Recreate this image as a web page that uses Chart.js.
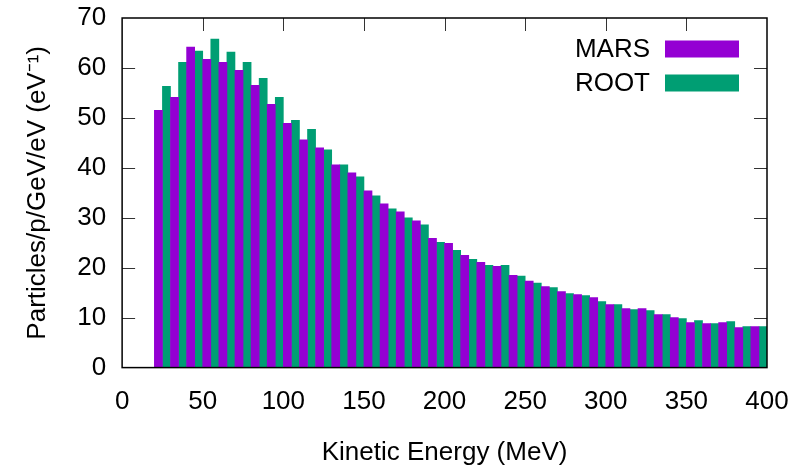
<!DOCTYPE html>
<html lang="en">
<head>
    <meta charset="UTF-8">
    <title>MARS vs ROOT spectrum</title>
    <script src="https://cdn.jsdelivr.net/npm/chart.js"></script>
    <style>
        body {
            margin: 0;
            padding: 0;
            background: white;
        }
        #chart-box {
            width: 811px;
            height: 468px;
        }
    </style>
</head>
<body>
    <div id="chart-box">
        <canvas id="spectrum-chart"></canvas>
    </div>

    <script>
        // Bin centres (MeV), 10 MeV wide bins
        const energies = [25, 35, 45, 55, 65, 75, 85, 95, 105, 115,
                          125, 135, 145, 155, 165, 175, 185, 195, 205, 215,
                          225, 235, 245, 255, 265, 275, 285, 295, 305, 315,
                          325, 335, 345, 355, 365, 375, 385, 395];
        const marsValues = [51.5, 54.1, 64.2, 61.7, 61.1, 59.5, 56.5, 52.7, 48.9, 45.6,
                            44.0, 40.6, 39.0, 35.4, 32.8, 31.2, 29.4, 25.9, 24.9, 22.5,
                            21.1, 20.3, 18.5, 17.3, 16.2, 15.2, 14.6, 14.0, 12.6, 11.8,
                            11.8, 10.6, 10.0, 9.0, 8.8, 9.0, 8.0, 8.2];
        const rootValues = [56.3, 61.1, 63.4, 65.8, 63.2, 61.1, 57.9, 54.1, 49.5, 47.7,
                            43.6, 40.6, 38.2, 34.4, 31.8, 30.0, 28.6, 25.1, 23.5, 21.7,
                            20.5, 20.5, 18.3, 16.9, 16.0, 14.8, 14.4, 13.2, 12.6, 11.6,
                            11.4, 10.6, 9.8, 9.4, 8.8, 9.2, 8.2, 8.2];
        const seriesNames = ['MARS', 'ROOT'];
        const seriesColors = ['#9400d3', '#009e73'];

        const fontFamily = '"Liberation Sans", Arial, sans-serif';

        // gnuplot-style frame: inward ticks behind the bars, border + legend on top
        const framePlugin = {
            id: 'frame',
            beforeDatasetsDraw(chart) {
                const { ctx, chartArea: a, scales } = chart;
                const tickLen = 13;
                ctx.save();
                ctx.strokeStyle = '#333';
                ctx.lineWidth = 1;
                ctx.beginPath();
                scales.x.ticks.forEach(t => {
                    if (t.value <= scales.x.min || t.value >= scales.x.max) return;
                    const px = Math.round(scales.x.getPixelForValue(t.value)) + 0.5;
                    ctx.moveTo(px, a.bottom); ctx.lineTo(px, a.bottom - tickLen);
                    ctx.moveTo(px, a.top); ctx.lineTo(px, a.top + tickLen);
                });
                scales.y.ticks.forEach(t => {
                    if (t.value <= scales.y.min || t.value >= scales.y.max) return;
                    const py = Math.round(scales.y.getPixelForValue(t.value)) + 0.5;
                    ctx.moveTo(a.left, py); ctx.lineTo(a.left + tickLen, py);
                    ctx.moveTo(a.right, py); ctx.lineTo(a.right - tickLen, py);
                });
                ctx.stroke();
                ctx.restore();
            },
            afterDatasetsDraw(chart) {
                const { ctx, chartArea: a } = chart;
                ctx.save();
                ctx.strokeStyle = '#000';
                ctx.lineWidth = 1.5;
                ctx.strokeRect(a.left, a.top, a.right - a.left, a.bottom - a.top);

                // legend
                ctx.font = '26px ' + fontFamily;
                ctx.textAlign = 'right';
                ctx.textBaseline = 'middle';
                chart.data.datasets.forEach((ds, i) => {
                    const cy = a.top + 31 + i * 34;
                    ctx.fillStyle = '#000';
                    ctx.fillText(ds.label, a.right - 117, cy + 1);
                    ctx.fillStyle = ds.backgroundColor;
                    ctx.fillRect(a.right - 102, cy - 8.5, 74, 17);
                });
                ctx.restore();
            }
        };

        const ctx = document.getElementById('spectrum-chart').getContext('2d');
        new Chart(ctx, {
            type: 'bar',
            data: {
                datasets: [
                    {
                        label: seriesNames[0],
                        data: energies.map((e, i) => ({ x: e, y: marsValues[i] })),
                        backgroundColor: seriesColors[0],
                        borderWidth: 0
                    },
                    {
                        label: seriesNames[1],
                        data: energies.map((e, i) => ({ x: e, y: rootValues[i] })),
                        backgroundColor: seriesColors[1],
                        borderWidth: 0
                    }
                ]
            },
            options: {
                responsive: true,
                maintainAspectRatio: false,
                animation: false,
                barPercentage: 1.0,
                categoryPercentage: 1.0,
                layout: { padding: { left: 22, right: 44, top: 18, bottom: 0 } },
                plugins: {
                    legend: { display: false },
                    tooltip: { enabled: false }
                },
                scales: {
                    x: {
                        type: 'linear',
                        offset: false,
                        min: 0,
                        max: 400,
                        grid: { display: false, drawTicks: false, offset: false },
                        border: { display: false },
                        ticks: {
                            stepSize: 50,
                            padding: 19,
                            color: '#000',
                            font: { family: fontFamily, size: 26 }
                        },
                        title: {
                            display: true,
                            text: 'Kinetic Energy (MeV)',
                            color: '#000',
                            padding: { top: 0, bottom: 0 },
                            font: { family: fontFamily, size: 26 }
                        }
                    },
                    y: {
                        min: 0,
                        max: 70,
                        grid: { display: false, drawTicks: false },
                        border: { display: false },
                        ticks: {
                            stepSize: 10,
                            padding: 16,
                            color: '#000',
                            font: { family: fontFamily, size: 26 }
                        },
                        title: {
                            display: true,
                            text: 'Particles/p/GeV/eV (eV⁻¹)',
                            color: '#000',
                            padding: { top: 0, bottom: 8 },
                            font: { family: fontFamily, size: 26 }
                        },
                        afterFit(scale) {
                            // labels may overhang the plot frame, as in gnuplot
                            scale.paddingTop = 0;
                            scale.paddingBottom = 0;
                        }
                    }
                }
            },
            plugins: [framePlugin]
        });
    </script>
</body>
</html>
